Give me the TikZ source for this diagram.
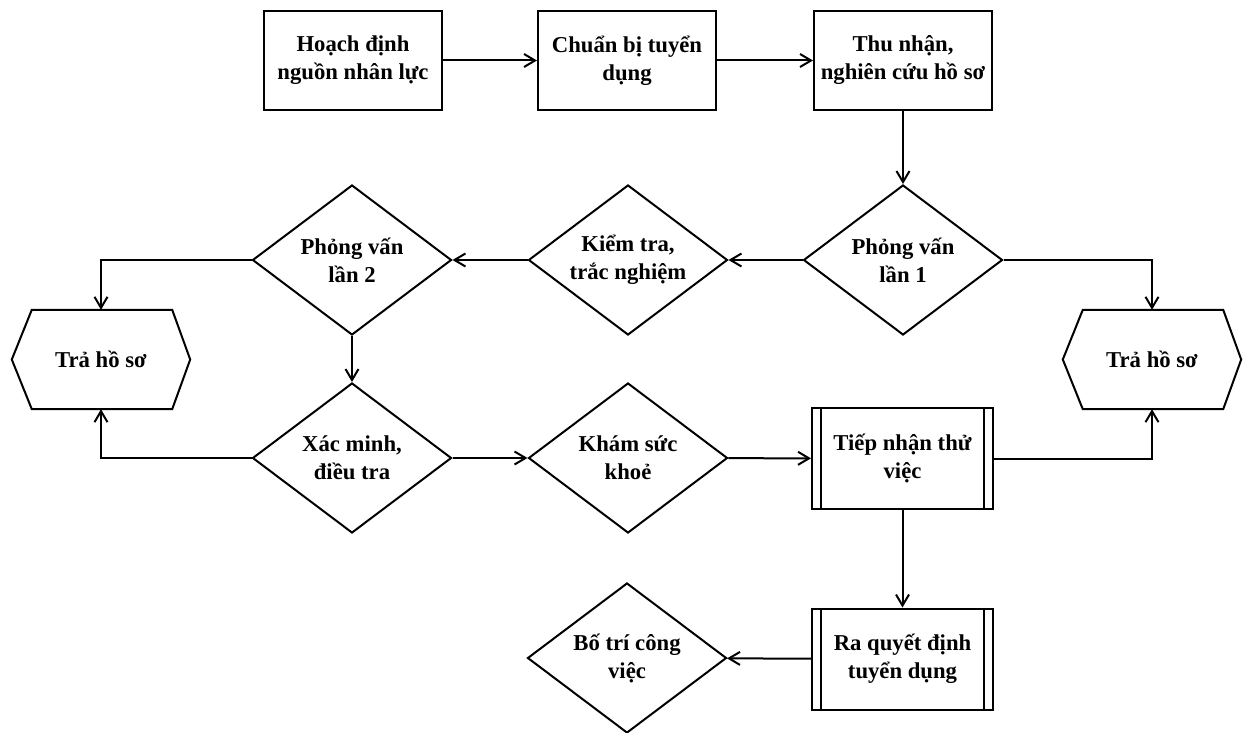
\documentclass[tikz,border=0pt]{standalone}
\usepackage{fontspec}
\setmainfont{Liberation Serif}
\usetikzlibrary{shapes.geometric,arrows.meta,calc}
\tikzset{
  every node/.style={font=\bfseries\fontsize{22.7}{28}\selectfont, align=center},
  proc/.style={draw, rectangle, line width=2pt, minimum width=178, minimum height=99, inner sep=0pt},
  dproc/.style={draw, rectangle, line width=2pt, minimum width=181, minimum height=101, inner sep=0pt},
  hexa/.style={rectangle, minimum width=178, minimum height=99, inner sep=0pt},
  dec/.style={draw, diamond, line width=2pt, minimum width=199, minimum height=150, inner sep=-10pt},
  arr/.style={draw, line width=2pt, -{Straight Barb[length=11pt,width=13pt]}},
  thickline/.style={draw, line width=2pt}
}
\begin{document}
\begin{tikzpicture}[x=1pt,y=-1pt]
\useasboundingbox (0,0) rectangle (1245,733);
% top row
\node[proc] (b1) at (353,60.5) {Hoạch định\\nguồn nhân lực};
\node[proc] (b2) at (627,60.5) {Chuẩn bị tuyển\\dụng};
\node[proc] (b3) at (903,60.5) {Thu nhận,\\nghiên cứu hồ sơ};
% diamonds row 2
\node[dec] (d1) at (903,260) {Phỏng vấn\\lần 1};
\node[dec] (d2) at (628,260) {Kiểm tra,\\trắc nghiệm};
\node[dec] (d3) at (352,260) {Phỏng vấn\\lần 2};
% hexagons
\node[hexa] (hl) at (101,359.5) {Trả hồ sơ};
\node[hexa] (hr) at (1152,359.5) {Trả hồ sơ};
\path[thickline,line join=miter] (hl.west) -- ($(hl.north west)+(20,0)$) -- ($(hl.north east)+(-18,0)$) -- (hl.east) -- ($(hl.south east)+(-18,0)$) -- ($(hl.south west)+(20,0)$) -- cycle;
\path[thickline,line join=miter] (hr.west) -- ($(hr.north west)+(20,0)$) -- ($(hr.north east)+(-18,0)$) -- (hr.east) -- ($(hr.south east)+(-18,0)$) -- ($(hr.south west)+(20,0)$) -- cycle;
% row 3
\node[dec] (d4) at (352,458) {Xác minh,\\điều tra};
\node[dec] (d5) at (628,458) {Khám sức\\khoẻ};
\node[dproc] (t1) at (902.5,458.5) {Tiếp nhận thử\\việc};
\node[dproc] (t2) at (902.5,659) {Ra quyết định\\tuyển dụng};
\node[dec] (d6) at (627,658) {Bố trí công\\việc};
% inner bars
\foreach \n in {t1,t2}{
  \path[thickline] ($(\n.north west)+(10,0)$) -- ($(\n.south west)+(10,0)$);
  \path[thickline] ($(\n.north east)+(-10,0)$) -- ($(\n.south east)+(-10,0)$);
}
% connectors
\path[arr] (b1) -- (b2);
\path[arr] (b2) -- (b3);
\path[arr] (b3) -- (d1);
\path[arr] (d1) -- (d2);
\path[arr] (d2) -- (d3);
\path[arr] (d1.east) -| (hr.north);
\path[arr] (d3.west) -| (hl.north);
\path[arr] (d3) -- (d4);
\path[arr] (d4.west) -| (hl.south);
\path[arr] (d4) -- (d5);
\path[arr] (d5) -- (t1);
\path[arr] (t1.east) -| (hr.south);
\path[arr] (t1) -- (t2);
\path[arr] (t2) -- (d6);
\end{tikzpicture}
\end{document}
